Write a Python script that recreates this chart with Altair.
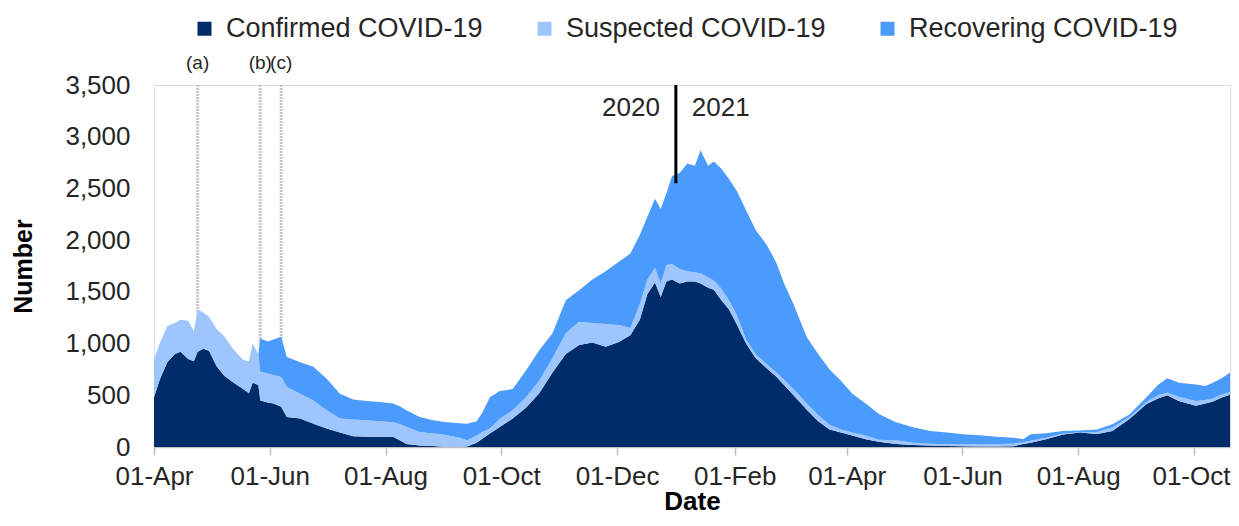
import altair as alt
import pandas as pd

# ---------------- data ----------------
start_date = "2020-04-01"
# day offsets from 1 April 2020
day_offset = [0, 3, 7, 11, 14, 18, 21, 23, 26, 29, 33, 37, 42, 47, 50, 52, 55, 56, 60, 63,
              67, 70, 77, 84, 91, 98, 105, 112, 119, 126, 130, 133, 140, 147, 154, 161, 165,
              170, 173, 177, 182, 189, 196, 203, 210, 217, 224, 231, 238, 245, 251, 256, 260,
              264, 267, 270, 273, 277, 281, 285, 288, 292, 295, 299, 303, 307, 312, 317, 323,
              328, 332, 337, 344, 350, 356, 362, 368, 375, 382, 391, 400, 409, 418, 426, 435,
              444, 453, 458, 462, 470, 479, 488, 497, 505, 514, 523, 529, 534, 540, 549, 554,
              558, 563, 567]
confirmed = [480, 650, 820, 900, 920, 850, 830, 920, 950, 930, 780, 690, 620, 560, 520, 620, 600,
             450, 430, 420, 390, 290, 275, 225, 180, 140, 105, 100, 100, 100, 60, 30, 15, 10, 0, 0,
             5, 40, 80, 130, 190, 275, 380, 520, 720, 900, 985, 1010, 970, 1015, 1080, 1230, 1480,
             1590, 1450, 1600, 1620, 1580, 1600, 1600, 1580, 1540, 1520, 1420, 1330, 1190, 1000,
             860, 760, 680, 600, 500, 360, 250, 170, 140, 110, 75, 50, 30, 20, 15, 10, 8, 5, 6, 8,
             30, 40, 75, 120, 140, 125, 155, 270, 415, 470, 500, 445, 400, 420, 440, 480, 505]
suspected = [370, 350, 350, 300, 310, 370, 290, 410, 350, 330, 360, 380, 320, 280, 310, 380, 300,
             280, 280, 275, 290, 290, 240, 225, 175, 135, 160, 158, 150, 140, 160, 165, 130, 120,
             115, 90, 60, 70, 65, 50, 80, 80, 100, 120, 140, 200, 225, 190, 220, 165, 70, 150, 140,
             140, 130, 160, 150, 140, 100, 90, 100, 100, 90, 110, 90, 90, 40, 40, 40, 40, 50, 60,
             60, 60, 45, 30, 30, 35, 20, 35, 22, 17, 16, 18, 21, 24, 24, 15, 20, 15, 10, 2, 20, 35,
             20, 20, 30, 25, 40, 45, 35, 30, 30, 25]
recovering = [0, 0, 0, 0, 0, 0, 0, 0, 0, 0, 0, 0, 0, 0, 0, 0, 0, 320, 310, 345, 385, 290, 305,
              325, 305, 240, 195, 187, 185, 180, 170, 160, 145, 128, 125, 140, 160, 140, 185, 300,
              270, 205, 260, 295, 240, 320, 305, 420, 510, 610, 720, 670, 605, 670, 720, 690, 850,
              930, 1040, 1030, 1190, 1080, 1150, 1160, 1170, 1200, 1250, 1200, 1150, 1060, 930,
              820, 640, 590, 535, 470, 375, 310, 250, 175, 148, 123, 114, 97, 87, 70, 58, 30, 63,
              42, 25, 18, 25, 30, 25, 45, 100, 140, 135, 160, 135, 150, 160, 190]

series_names = ["Confirmed COVID-19", "Suspected COVID-19", "Recovering COVID-19"]
series_colors = ["#002D6A", "#9EC5FC", "#4B9BFD"]

y_ticks = [0, 500, 1000, 1500, 2000, 2500, 3000, 3500]
x_tick_dates = [(2020, 4), (2020, 6), (2020, 8), (2020, 10), (2020, 12),
                (2021, 2), (2021, 4), (2021, 6), (2021, 8), (2021, 10)]

marker_dates = ["2020-04-24", "2020-05-27", "2020-06-07"]
marker_labels = ["(a)", "(b)", "(c)"]
year_break_date = "2021-01-01"
year_labels = ["2020", "2021"]

# ---------------- build table ----------------
dates = [(pd.Timestamp(start_date) + pd.Timedelta(days=d)).strftime("%Y-%m-%d") for d in day_offset]
rows = []
for k, (name, vals) in enumerate(zip(series_names, [confirmed, suspected, recovering])):
    for dt, v in zip(dates, vals):
        rows.append({"date": dt, "series": name, "value": v, "order": k})
df = pd.DataFrame(rows)

FONT = "Liberation Sans"
TXT = "#262626"

x_scale = alt.Scale(type="utc", nice=False,
                    domain=[alt.DateTime(year=2020, month=4, date=1, utc=True),
                            alt.DateTime(year=2021, month=10, date=20, utc=True)])
y_scale = alt.Scale(domain=[0, 3500], nice=False)

areas = alt.Chart(df).mark_area(interpolate="linear").encode(
    x=alt.X("date:T", scale=x_scale,
            axis=alt.Axis(values=[alt.DateTime(year=y, month=m, date=1, utc=True) for y, m in x_tick_dates],
                          format="%d-%b", title="Date", grid=False,
                          domainColor="#bfbfbf", domainWidth=1.5,
                          tickColor="#bfbfbf", tickWidth=1.5, tickSize=8,
                          labelPadding=8, labelFontSize=26, labelColor=TXT, labelFont=FONT,
                          labelOverlap=False, labelFlush=False, labelBound=False,
                          labelOffset={"condition": {"test": "datum.value > utc(2021, 8, 1)", "value": -3},
                                       "value": 0},
                          titleFontSize=26, titleFontWeight="bold", titleFont=FONT, titleColor="#000000",
                          titleY=54, titleBaseline="middle")),
    y=alt.Y("value:Q", stack="zero", scale=y_scale,
            axis=alt.Axis(values=y_ticks, format=",.0f", title="Number", ticks=False, domain=False,
                          gridColor="#d9d9d9", gridWidth=1.5,
                          labelPadding=24, labelFontSize=26, labelColor=TXT, labelFont=FONT,
                          titleFontSize=25, titleFontWeight="bold", titleFont=FONT, titleColor="#000000",
                          titleX=-131, titleY=181, titleAngle=270, titleBaseline="middle")),
    color=alt.Color("series:N", scale=alt.Scale(domain=series_names, range=series_colors),
                    legend=alt.Legend(title=None, orient="none", direction="horizontal",
                                      legendX=37, legendY=-70, symbolType="square", symbolSize=196,
                                      symbolStrokeWidth=0, labelFontSize=27, labelFont=FONT,
                                      labelColor=TXT, labelOffset=8, columnPadding=48, padding=0,
                                      labelLimit=400)),
    order=alt.Order("order:Q"),
)

ann = pd.DataFrame({"date": marker_dates, "label": marker_labels})
marker_rules = alt.Chart(ann).mark_rule(color="#c8c8c8", strokeWidth=3, strokeDash=[2, 1]).encode(
    x=alt.X("date:T"), y=alt.datum(0), y2=alt.datum(3500))
marker_text = alt.Chart(ann).mark_text(fontSize=19, font=FONT, color=TXT, dy=-22, baseline="middle").encode(
    x=alt.X("date:T"), y=alt.datum(3500), text="label:N")

yr = pd.DataFrame({"date": [year_break_date]})
year_rule = alt.Chart(yr).mark_rule(color="#000000", strokeWidth=3).encode(
    x=alt.X("date:T"), y=alt.datum(2550), y2=alt.datum(3500))
year_left = alt.Chart(yr).mark_text(fontSize=26, font=FONT, color=TXT, align="right", dx=-16,
                                    baseline="middle", text=year_labels[0]).encode(
    x=alt.X("date:T"), y=alt.datum(3280))
year_right = alt.Chart(yr).mark_text(fontSize=26, font=FONT, color=TXT, align="left", dx=16,
                                     baseline="middle", text=year_labels[1]).encode(
    x=alt.X("date:T"), y=alt.datum(3280))

chart = alt.layer(marker_rules, areas, marker_text, year_rule, year_left, year_right).properties(
    width=1076, height=362,
    autosize=alt.AutoSizeParams(type="none"),
    padding={"left": 146, "top": 77, "right": 1, "bottom": 70},
).configure_view(stroke=None).configure(background="white")

chart.save("out.html", embed_options={"renderer": "svg", "actions": False})
